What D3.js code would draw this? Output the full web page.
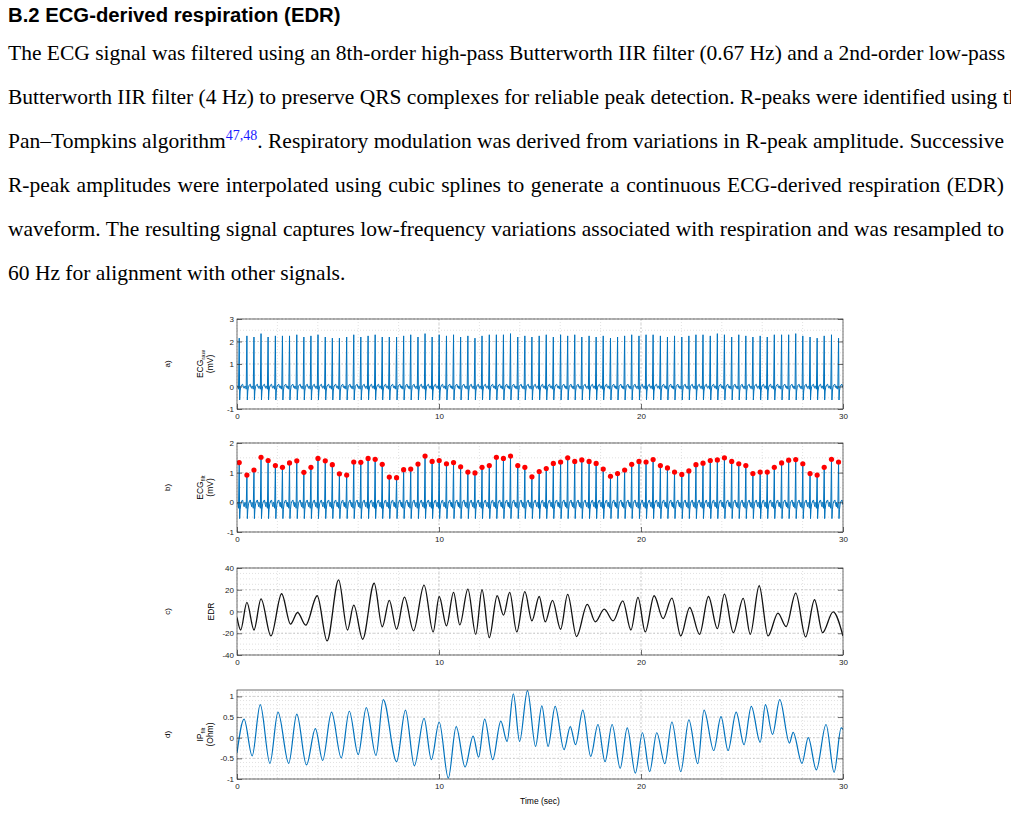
<!DOCTYPE html>
<html><head><meta charset="utf-8">
<script src="https://cdn.jsdelivr.net/npm/d3@7"></script>
<style>
body{margin:0;background:#fff;width:1011px;height:815px;overflow:hidden;position:relative}
h3{position:absolute;left:8px;top:4px;margin:0;font:bold 20.3px "Liberation Sans",Arial,sans-serif}
#txt{position:absolute;left:8px;top:37px;width:996px;font:21.5px "Liberation Serif","Times New Roman",serif}
#txt div{height:44px;line-height:32px;text-align:justify;text-align-last:justify;white-space:nowrap}
#txt div.last{text-align-last:left}
sup{color:#1a1aff;font-size:14px;line-height:0}
#chart{position:absolute;left:0;top:0}
</style></head><body>
<h3>B.2 ECG-derived respiration (EDR)</h3>
<div id="txt">
<div>The ECG signal was filtered using an 8th-order high-pass Butterworth IIR filter (0.67 Hz) and a 2nd-order low-pass</div>
<div>Butterworth IIR filter (4 Hz) to preserve QRS complexes for reliable peak detection. R-peaks were identified using the</div>
<div>Pan–Tompkins algorithm<sup>47,48</sup>. Respiratory modulation was derived from variations in R-peak amplitude. Successive</div>
<div>R-peak amplitudes were interpolated using cubic splines to generate a continuous ECG-derived respiration (EDR)</div>
<div>waveform. The resulting signal captures low-frequency variations associated with respiration and was resampled to</div>
<div class="last">60 Hz for alignment with other signals.</div>
</div>
<svg id="chart" width="1011" height="815"></svg>
<script>
// R-peak times (s) and filtered amplitudes (mV)
var beatTimes = [0.11,0.49,0.84,1.19,1.54,1.90,2.25,2.60,2.96,3.31,3.66,4.01,4.37,4.72,5.07,5.43,5.78,6.13,6.49,6.84,7.19,7.54,7.90,8.25,8.60,8.96,9.31,9.66,10.01,10.37,10.72,11.07,11.43,11.78,12.13,12.49,12.84,13.19,13.54,13.90,14.25,14.60,14.96,15.31,15.66,16.02,16.37,16.72,17.07,17.43,17.78,18.13,18.49,18.84,19.19,19.54,19.90,20.25,20.60,20.96,21.31,21.66,22.02,22.37,22.72,23.07,23.43,23.78,24.13,24.49,24.84,25.19,25.54,25.90,26.25,26.60,26.96,27.31,27.66,28.01,28.37,28.72,29.07,29.43,29.78]
var peakFilt = [1.34,0.92,1.09,1.52,1.41,1.24,1.18,1.33,1.40,1.01,1.18,1.48,1.40,1.27,0.96,0.92,1.36,1.35,1.48,1.45,1.28,0.85,0.83,1.10,1.12,1.29,1.56,1.38,1.41,1.30,1.34,1.20,1.02,0.99,1.18,1.24,1.52,1.48,1.56,1.24,1.18,0.86,1.04,1.14,1.31,1.36,1.50,1.38,1.43,1.38,1.31,1.12,0.88,0.97,1.09,1.28,1.38,1.36,1.44,1.24,1.16,1.02,0.94,1.06,1.27,1.32,1.41,1.43,1.50,1.38,1.30,1.24,0.97,1.02,1.02,1.18,1.33,1.42,1.44,1.30,0.97,0.92,1.18,1.45,1.36]
var peakRaw = [2.15,2.25,2.2,2.35,2.2,2.25,2.25,2.25,2.3,2.2,2.25,2.3,2.2,2.15,2.15,2.2,2.3,2.2,2.25,2.3,2.2,2.2,2.2,2.25,2.3,2.2,2.35,2.2,2.3,2.25,2.3,2.2,2.25,2.15,2.25,2.3,2.3,2.3,2.35,2.2,2.25,2.2,2.25,2.3,2.2,2.3,2.25,2.3,2.2,2.25,2.2,2.25,2.15,2.2,2.25,2.3,2.25,2.3,2.3,2.25,2.2,2.25,2.2,2.25,2.3,2.3,2.25,2.35,2.3,2.2,2.3,2.25,2.2,2.25,2.2,2.3,2.3,2.3,2.35,2.25,2.2,2.15,2.25,2.3,2.15]
// beat shape around each R peak: offset (s), value (mV); the R sample takes the peak value
var tplOffset = [-0.10,-0.06,-0.035,0,0.022,0.045,0.08,0.13,0.17,0.21,0.245]
var tplRaw = [0.02,0.0,-0.12,null,-0.6,-0.2,0.0,0.08,0.1,-0.05,-0.08]
var tplFilt = [0.0,-0.05,-0.2,null,-0.55,-0.25,-0.05,0.05,0.08,-0.08,-0.15]
// EDR extrema (s, a.u.)
var edrT = [0,0.18,0.49,0.84,1.19,1.68,2.21,2.65,3.0,3.4,3.97,4.46,5.03,5.47,5.78,6.22,6.79,7.19,7.54,7.90,8.29,8.74,9.26,9.71,10.01,10.37,10.72,11.03,11.43,11.82,12.13,12.49,12.88,13.19,13.50,13.85,14.25,14.60,14.96,15.26,15.62,16.02,16.37,16.81,17.34,17.74,18.18,18.62,19.10,19.50,19.85,20.21,20.65,21.09,21.53,21.97,22.41,22.90,23.34,23.78,24.13,24.57,25.06,25.41,25.85,26.29,26.78,27.18,27.66,28.15,28.59,28.99,29.51,30]
var edrV = [-5.5,-17,8.3,-17,11.7,-22.5,16.3,-11.7,-0.9,-12.6,14.5,-27,29,-17,5.8,-25.5,26,-14,10.3,-16.3,13.2,-17.8,24.3,-18.8,13.8,-13.2,17.5,-12.3,20.6,-21,20,-24,14.5,-3.4,17.5,-18.8,18.2,-8.6,13.8,-9.5,10.2,-16.3,15.7,-23,6.5,-9.5,2.2,-8.6,9.8,-17,12.9,-18.8,14.5,-6.5,12.3,-22.5,3.7,-21,13.8,-15.7,16,-19.4,12,-21,23.7,-22.5,-1.5,-13.8,16.9,-23.4,10.8,-19.4,-0.3,-22.5]
// IP filtered extrema (s, Ohm)
var ipT = [0,0.35,0.75,1.15,1.63,2.03,2.56,2.96,3.44,3.88,4.24,4.68,5.16,5.56,6.00,6.40,6.88,7.24,7.90,8.34,8.78,9.26,9.62,10.01,10.46,10.85,11.29,11.69,11.96,12.26,12.66,13.06,13.37,13.68,13.99,14.38,14.78,15.09,15.40,15.75,16.19,16.50,16.76,17.12,17.51,17.87,18.22,18.57,18.97,19.32,19.72,20.07,20.43,20.78,21.18,21.53,21.97,22.37,22.81,23.12,23.60,23.96,24.31,24.71,25.10,25.46,25.90,26.16,26.51,26.87,27.35,27.53,27.97,28.28,28.68,29.16,29.56,29.91,30]
var ipV = [-0.37,0.45,-0.44,0.80,-0.62,0.62,-0.62,0.57,-0.66,0.22,-0.55,0.62,-0.49,0.64,-0.41,0.73,-0.43,0.92,-0.58,0.67,-0.68,0.47,-0.53,0.38,-0.98,0.27,-0.71,0.04,-0.47,0.45,-0.53,0.40,-0.09,1.06,-0.09,1.14,-0.21,0.77,-0.21,0.76,-0.29,0.27,-0.17,0.67,-0.45,0.32,-0.58,0.32,-0.74,0.24,-0.86,0.12,-0.82,0.12,-0.63,0.38,-0.82,0.43,-0.63,0.67,-0.31,0.51,-0.31,0.62,-0.17,0.76,-0.11,0.80,0.08,0.92,-0.13,0.13,-0.62,0.0,-0.78,0.32,-0.84,0.24,0.20]

var svg = d3.select("#chart")
var x0 = 237, x1 = 843
var blue = "#0072BD"
var font = '"Liberation Sans",Arial,sans-serif'

function ecgPoints(tpl, peaks){
  var pts = []
  beatTimes.forEach(function(t, i){
    tplOffset.forEach(function(o, j){
      var tt = t + o
      if (tt >= 0 && tt <= 30) pts.push([tt, tpl[j] === null ? peaks[i] : tpl[j]])
    })
  })
  return pts
}

var panels = [
  {tag:"a)", top:319, bot:409, dom:[-1,3], ticks:[-1,0,1,2,3], minor:0.5, lab:["ECG","raw","(mV)"]},
  {tag:"b)", top:443, bot:532, dom:[-1,2], ticks:[-1,0,1,2], minor:0.5, lab:["ECG","filt","(mV)"]},
  {tag:"c)", top:568, bot:655, dom:[-40,40], ticks:[-40,-20,0,20,40], minor:5, lab:["EDR"]},
  {tag:"d)", top:690, bot:779, dom:[-1,1.155], ticks:[-1,-0.5,0,0.5,1], minor:0.1, lab:["IP","filt","(Ohm)"]}
]

var x = d3.scaleLinear().domain([0,30]).range([x0,x1])

panels.forEach(function(p, k){
  var y = d3.scaleLinear().domain(p.dom).range([p.bot,p.top])
  var g = svg.append("g")
  // minor grid
  g.selectAll(".mx").data(d3.range(0,30.01,2)).enter().append("line")
    .attr("x1", d=>x(d)).attr("x2", d=>x(d)).attr("y1", p.top).attr("y2", p.bot)
    .attr("stroke","#ccc").attr("stroke-width",0.6).attr("stroke-dasharray","1,2")
  g.selectAll(".my").data(d3.range(p.dom[0], p.dom[1]+1e-9, p.minor)).enter().append("line")
    .attr("x1", x0).attr("x2", x1).attr("y1", d=>y(d)).attr("y2", d=>y(d))
    .attr("stroke","#ccc").attr("stroke-width",0.6).attr("stroke-dasharray","1,2")
  // major grid
  g.selectAll(".gx").data([10,20]).enter().append("line")
    .attr("x1", d=>x(d)).attr("x2", d=>x(d)).attr("y1", p.top).attr("y2", p.bot)
    .attr("stroke","#bbb").attr("stroke-width",0.7).attr("stroke-dasharray","2,2")
  g.selectAll(".gy").data(p.ticks).enter().append("line")
    .attr("x1", x0).attr("x2", x1).attr("y1", d=>y(d)).attr("y2", d=>y(d))
    .attr("stroke","#bbb").attr("stroke-width",0.7).attr("stroke-dasharray","2,2")

  // data
  var line = d3.line().x(d=>x(d[0])).y(d=>y(d[1]))
  var clip = "clip"+k
  svg.append("clipPath").attr("id",clip).append("rect")
    .attr("x",x0).attr("y",p.top).attr("width",x1-x0).attr("height",p.bot-p.top)
  var dg = g.append("g").attr("clip-path","url(#"+clip+")")
  if (k == 0) {
    dg.append("path").attr("d", line(ecgPoints(tplRaw, peakRaw))).attr("fill","none").attr("stroke",blue).attr("stroke-width",1)
  } else if (k == 1) {
    dg.append("path").attr("d", line(ecgPoints(tplFilt, peakFilt))).attr("fill","none").attr("stroke",blue).attr("stroke-width",1)
    dg.selectAll("circle").data(beatTimes).enter().append("circle")
      .attr("cx", d=>x(d)).attr("cy", (d,i)=>y(peakFilt[i])).attr("r",2.6).attr("fill","#ff0000")
  } else if (k == 2) {
    dg.append("path").attr("d", line.curve(d3.curveMonotoneX)(d3.zip(edrT, edrV))).attr("fill","none").attr("stroke","#111").attr("stroke-width",1.3)
  } else {
    dg.append("path").attr("d", line.curve(d3.curveMonotoneX)(d3.zip(ipT, ipV))).attr("fill","none").attr("stroke",blue).attr("stroke-width",1.2)
  }

  // box and ticks
  g.append("rect").attr("x",x0).attr("y",p.top).attr("width",x1-x0).attr("height",p.bot-p.top)
    .attr("fill","none").attr("stroke","#333").attr("stroke-width",0.7)
  var ax = g.append("g").attr("transform","translate(0,"+p.bot+")")
    .call(d3.axisBottom(x).tickValues([0,10,20,30]).tickSize(-5).tickPadding(4))
  var ay = g.append("g").attr("transform","translate("+x0+",0)")
    .call(d3.axisLeft(y).tickValues(p.ticks).tickSize(-5).tickPadding(3).tickFormat(d=>String(d)))
  var ay2 = g.append("g").attr("transform","translate("+x1+",0)")
    .call(d3.axisRight(y).tickValues(p.ticks).tickSize(-5).tickFormat(""))
  ;[ax,ay,ay2].forEach(function(a){
    a.select(".domain").remove()
    a.selectAll("line").attr("stroke","#333").attr("stroke-width",0.7)
    a.selectAll("text").attr("font-family",font).attr("font-size",8).attr("fill","#222")
  })

  // labels
  var cy = (p.top+p.bot)/2
  g.append("text").attr("transform","translate(170,"+cy+") rotate(-90)").attr("text-anchor","middle")
    .attr("font-family",font).attr("font-size",8).text(p.tag)
  if (p.lab.length == 1) {
    g.append("text").attr("transform","translate(214,"+cy+") rotate(-90)").attr("text-anchor","middle")
      .attr("font-family",font).attr("font-size",8.5).text(p.lab[0])
  } else {
    var t = g.append("text").attr("transform","translate(203,"+cy+") rotate(-90)").attr("text-anchor","middle")
      .attr("font-family",font).attr("font-size",8.5)
    t.append("tspan").text(p.lab[0])
    t.append("tspan").attr("font-size",6).attr("dy",2).text(p.lab[1])
    g.append("text").attr("transform","translate(213,"+cy+") rotate(-90)").attr("text-anchor","middle")
      .attr("font-family",font).attr("font-size",8.5).text(p.lab[2])
  }
})

svg.append("text").attr("x",(x0+x1)/2).attr("y",804).attr("text-anchor","middle")
  .attr("font-family",font).attr("font-size",8.5).text("Time (sec)")
</script>
</body></html>
